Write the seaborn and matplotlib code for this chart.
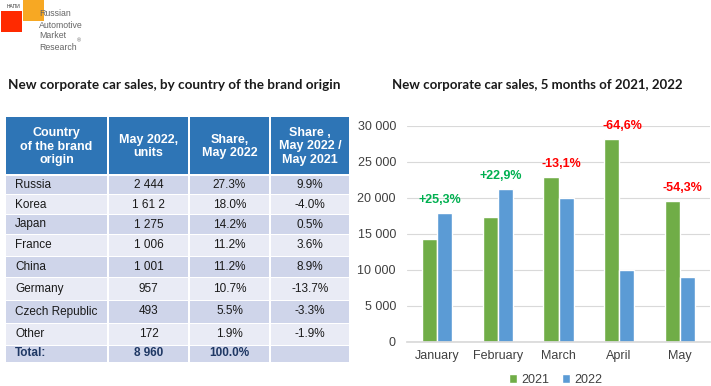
import matplotlib
matplotlib.use("Agg")
import matplotlib.pyplot as plt
from matplotlib.patches import Rectangle
import seaborn as sns
import pandas as pd

# ---- data ----
months = ["January", "February", "March", "April", "May"]
sales_2021 = [14250, 17300, 22900, 28100, 19600]
sales_2022 = [17850, 21250, 19900, 9950, 8960]
change_labels = ["+25,3%", "+22,9%", "-13,1%", "-64,6%", "-54,3%"]

countries = ["Russia", "Korea", "Japan", "France", "China", "Germany", "Czech Republic", "Other"]
units_may22 = ["2 444", "1 61 2", "1 275", "1 006", "1 001", "957", "493", "172"]
share_may22 = ["27.3%", "18.0%", "14.2%", "11.2%", "11.2%", "10.7%", "5.5%", "1.9%"]
share_change = ["9.9%", "-4.0%", "0.5%", "3.6%", "8.9%", "-13.7%", "-3.3%", "-1.9%"]
total_row = ["Total:", "8 960", "100.0%", ""]
header = ["Country\nof the brand\norigin", "May 2022,\nunits", "Share,\nMay 2022", "Share ,\nMay 2022 /\nMay 2021"]

sns.set_theme(style="white")
plt.rcParams['font.family'] = ['Liberation Sans', 'DejaVu Sans']

W, H = 711, 386
fig = plt.figure(figsize=(W / 100, H / 100), dpi=100)

# overlay axes in pixel coordinates for table / logo / titles
ov = fig.add_axes([0, 0, 1, 1])
ov.set_xlim(0, W)
ov.set_ylim(H, 0)
ov.axis("off")

# logo
ov.add_patch(Rectangle((1, 11), 21, 21, color="#FF2A00", lw=0))
ov.add_patch(Rectangle((23, 0), 21, 21, color="#F7A823", lw=0))
ov.text(7, 6, "НАПИ", fontsize=3.5, color="#333333", va="center")
for i, t in enumerate(["Russian", "Automotive", "Market", "Research"]):
    ov.text(39, 14 + i * 11, t, fontsize=6.3, color="#666666", va="center")
ov.text(77, 41, "®", fontsize=4, color="#666666", va="center")

# titles
ov.text(174, 85, "New corporate car sales, by country of the brand origin",
        fontsize=9.7, fontweight="bold", family="Lato", ha="center", va="center",
        color="#1a1a1a")
ov.text(537, 85, "New corporate car sales, 5 months of 2021, 2022",
        fontsize=9.5, fontweight="bold", family="Lato", ha="center", va="center",
        color="#1a1a1a")

# table
col_x = [5, 108, 189, 270, 350]
hdr_top, hdr_bot = 117, 174
row_edges = [175.5, 194.5, 214.5, 234.5, 256.5, 277.5, 300, 323, 345, 362]
shade = "#CFD5EA"
light = "#E9EBF5"
hdr_col = "#2E75B6"

for j in range(4):
    ov.add_patch(Rectangle((col_x[j] + 1, hdr_top), col_x[j + 1] - col_x[j] - 2,
                           hdr_bot - hdr_top, color=hdr_col, lw=0))
    ov.text((col_x[j] + col_x[j + 1]) / 2, (hdr_top + hdr_bot) / 2 + 1, header[j],
            ha="center", va="center", color="white", fontweight="bold",
            fontsize=9, linespacing=1.15)

rows = [[c, u, s, d] for c, u, s, d in zip(countries, units_may22, share_may22, share_change)]
rows.append(total_row)
for i, row in enumerate(rows):
    y0, y1 = row_edges[i], row_edges[i + 1]
    fc = shade if i % 2 == 0 else light
    is_total = i == len(rows) - 1
    for j in range(4):
        ov.add_patch(Rectangle((col_x[j] + 1, y0 + 0.5), col_x[j + 1] - col_x[j] - 2,
                               y1 - y0 - 1, color=fc, lw=0))
        if j == 0:
            tx, ha = col_x[0] + 10, "left"
        else:
            tx, ha = (col_x[j] + col_x[j + 1]) / 2, "center"
        ov.text(tx, (y0 + y1) / 2, row[j], ha=ha, va="center", fontsize=8.5,
                color="#1F3864" if is_total else "#1a1a1a",
                fontweight="bold" if is_total else "normal")

# bar chart
ax = fig.add_axes([407 / W, (H - 341.7) / H, 303 / W, 216 / H])
df = pd.DataFrame({
    "month": months * 2,
    "sales": sales_2021 + sales_2022,
    "year": ["2021"] * 5 + ["2022"] * 5,
})
sns.barplot(data=df, x="month", y="sales", hue="year",
            palette={"2021": "#70AD47", "2022": "#5B9BD5"},
            width=0.5, gap=0, ax=ax, saturation=1, errorbar=None)

ax.set_ylim(0, 30000)
ax.set_yticks(range(0, 30001, 5000))
ax.set_yticklabels([f"{v:,}".replace(",", " ") for v in range(0, 30001, 5000)])
ax.set_xlim(-0.5, 4.5)
ax.yaxis.grid(True, color="#D9D9D9", lw=0.8)
ax.set_axisbelow(True)
for s in ["top", "right", "left"]:
    ax.spines[s].set_visible(False)
ax.spines["bottom"].set_color("#D9D9D9")
ax.tick_params(axis="x", length=0, labelsize=9, colors="#404040", pad=6)
ax.tick_params(axis="y", length=0, labelsize=9, colors="#404040", pad=8)
ax.set_xlabel("")
ax.set_ylabel("")

for i, lab in enumerate(change_labels):
    top = max(sales_2021[i], sales_2022[i])
    color = "#00B050" if lab.startswith("+") else "#FF0000"
    ax.annotate(lab, (i + 0.05, top), xytext=(0, 5), textcoords="offset points",
                ha="center", va="bottom", fontsize=9, fontweight="bold", color=color)

ax.legend(loc="center", bbox_to_anchor=(0.49, -0.177), ncol=2, frameon=False,
          fontsize=9, handlelength=0.7, handleheight=0.7, handletextpad=0.3,
          columnspacing=1.0, labelcolor="#404040", borderpad=0)

fig.savefig("out.png", dpi=100)
